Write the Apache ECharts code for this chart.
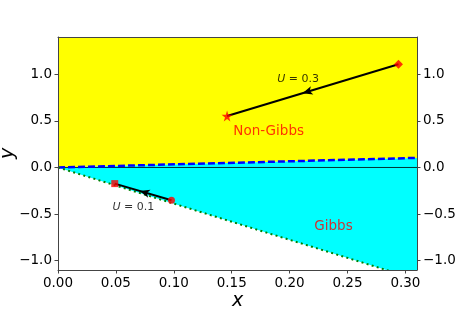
<!DOCTYPE html>
<html><head><meta charset="utf-8">
<script src="https://cdn.jsdelivr.net/npm/echarts@6/dist/echarts.min.js"></script>
<style>html,body{margin:0;padding:0;background:#fff}#c{width:463px;height:309px}</style>
</head><body><div id="c"></div>
<script>
// ---- data ----
const xRange = [0, 0.31];
const yRange = [-1.1, 1.4];
const xTicks = [0, 0.05, 0.10, 0.15, 0.20, 0.25, 0.30];
const yTicks = [-1.0, -0.5, 0.0, 0.5, 1.0];
const boundaryLine = [[0, 0], [0.31, 0.103]];      // blue dashed boundary
const gibbsLimitLine = [[0, 0], [0.31, -1.203]];   // green dotted limit
const zeroLine = [[0, 0], [0.31, 0]];
const u03Start = [0.294, 1.107];   // diamond
const u03End = [0.146, 0.552];     // star
const u01Start = [0.098, -0.352];  // circle
const u01End = [0.049, -0.173];    // square
const textLabels = [
  {name: 'U03', value: [0.2073, 0.953]},
  {name: 'U01', value: [0.0651, -0.424]},
  {name: 'Non-Gibbs', value: [0.1819, 0.383]},
  {name: 'Gibbs', value: [0.2379, -0.628]}
];

const FONT = 'DejaVu Sans';
const AX = '#444';
const chart = echarts.init(document.getElementById('c'));
const fmtY = v => (v < 0 ? '\u2212' : '') + Math.abs(v).toFixed(1);
const fmtX = v => v.toFixed(2);
const starPath = 'path://M50,0 L61,35 L98,35 L68,57 L79,91 L50,70 L21,91 L32,57 L2,35 L39,35 Z';

function arrowItem(params, api) {
  const p1 = api.coord([api.value(0), api.value(1)]);
  const p2 = api.coord([api.value(2), api.value(3)]);
  const dx = p2[0] - p1[0], dy = p2[1] - p1[1];
  const L = Math.hypot(dx, dy), ux = dx / L, uy = dy / L, nx = -uy, ny = ux;
  const t = [p1[0] + dx * 0.56, p1[1] + dy * 0.56];
  const len = 10, hw = 4.2, notch = 2.5;
  const b = [t[0] - ux * len, t[1] - uy * len];
  const pts = [t, [b[0] + nx * hw, b[1] + ny * hw], [t[0] - ux * (len - notch), t[1] - uy * (len - notch)], [b[0] - nx * hw, b[1] - ny * hw]];
  return {type: 'group', children: [
    {type: 'line', shape: {x1: p1[0], y1: p1[1], x2: p2[0], y2: p2[1]}, style: {stroke: '#000', lineWidth: 2}},
    {type: 'polygon', shape: {points: pts}, style: {fill: '#000'}}
  ]};
}

const axisLineStyle = {show: true, onZero: false, lineStyle: {color: AX, width: 1}};
const labelStyle = {color: '#000', fontFamily: FONT, fontSize: 13.5, margin: 6};

chart.setOption({
  animation: false,
  backgroundColor: '#fff',
  grid: {left: 58, right: 46, top: 37, bottom: 39, containLabel: false, outerBoundsMode: 'none'},
  xAxis: [
    {
      type: 'value', min: xRange[0], max: xRange[1], position: 'bottom', z: 10,
      axisLine: axisLineStyle, splitLine: {show: false},
      axisTick: {show: true, length: 3.5, customValues: xTicks, lineStyle: {color: AX}},
      axisLabel: Object.assign({customValues: xTicks, formatter: fmtX}, labelStyle),
      name: 'x', nameLocation: 'middle', nameGap: 22, nameMoveOverlap: false,
      nameTextStyle: {fontFamily: FONT, fontStyle: 'italic', fontSize: 19, color: '#000'}
    },
    {
      type: 'value', min: xRange[0], max: xRange[1], position: 'top', z: 10,
      axisLine: axisLineStyle, splitLine: {show: false},
      axisTick: {show: false}, axisLabel: {show: false}
    }
  ],
  yAxis: [
    {
      type: 'value', min: yRange[0], max: yRange[1], position: 'left', z: 10,
      axisLine: axisLineStyle, splitLine: {show: false},
      axisTick: {show: true, length: 3.5, customValues: yTicks, lineStyle: {color: AX}},
      axisLabel: Object.assign({customValues: yTicks, formatter: fmtY}, labelStyle),
      name: 'y', nameLocation: 'middle', nameGap: 40, nameRotate: 90, nameMoveOverlap: false,
      nameTextStyle: {fontFamily: FONT, fontStyle: 'italic', fontSize: 19, color: '#000'}
    },
    {
      type: 'value', min: yRange[0], max: yRange[1], position: 'right', z: 10,
      axisLine: axisLineStyle, splitLine: {show: false},
      axisTick: {show: true, length: 3.5, customValues: yTicks, lineStyle: {color: AX}},
      axisLabel: Object.assign({customValues: yTicks, formatter: fmtY}, labelStyle)
    }
  ],
  series: [
    {type: 'line', data: boundaryLine, symbol: 'none', lineStyle: {width: 0}, areaStyle: {color: '#ffff00', opacity: 1, origin: 'end'}, z: 1},
    {type: 'line', data: boundaryLine, symbol: 'none', lineStyle: {width: 0}, areaStyle: {color: '#00ffff', opacity: 1, origin: 'start'}, z: 1},
    {type: 'line', data: gibbsLimitLine, symbol: 'none', lineStyle: {width: 0}, areaStyle: {color: '#ffffff', opacity: 1, origin: 'start'}, z: 2},
    {type: 'line', data: zeroLine, symbol: 'none', lineStyle: {color: '#000', width: 0.8}, z: 3},
    {type: 'line', data: boundaryLine, symbol: 'none', lineStyle: {color: '#0000ff', width: 2.5, type: [7, 3]}, z: 4},
    {type: 'line', data: gibbsLimitLine, symbol: 'none', lineStyle: {color: '#008000', width: 2, type: [2, 3.3]}, z: 4},
    {type: 'custom', renderItem: arrowItem, clip: false, encode: {x: [0, 2], y: [1, 3]},
      data: [[u03Start[0], u03Start[1], u03End[0], u03End[1]], [u01Start[0], u01Start[1], u01End[0], u01End[1]]], z: 5},
    {type: 'scatter', data: [u03End], symbol: starPath, symbolSize: 11, itemStyle: {color: '#ff0000'}, z: 6},
    {type: 'scatter', data: [u03Start], symbol: 'diamond', symbolSize: 9, itemStyle: {color: '#ff0000'}, z: 6},
    {type: 'scatter', data: [u01Start], symbol: 'circle', symbolSize: 7, itemStyle: {color: '#ff0000'}, z: 6},
    {type: 'scatter', data: [u01End], symbol: 'rect', symbolSize: 7, itemStyle: {color: '#ff0000'}, z: 6},
    {type: 'scatter', symbolSize: 0, z: 7,
      data: textLabels.map(d => (d.name === 'U03' || d.name === 'U01') ?
        Object.assign({}, d, {label: {color: '#000', fontSize: 11}}) : d),
      label: {show: true, position: 'inside', fontFamily: FONT,
        formatter: p => p.name === 'U03' ? '{i|U} = 0.3' : p.name === 'U01' ? '{i|U} = 0.1' : p.name,
        color: '#ff0000', fontSize: 13.5,
        rich: {i: {fontStyle: 'italic', fontFamily: FONT, fontSize: 11, color: '#000'}}
      }
    }
  ]
});
</script></body></html>
